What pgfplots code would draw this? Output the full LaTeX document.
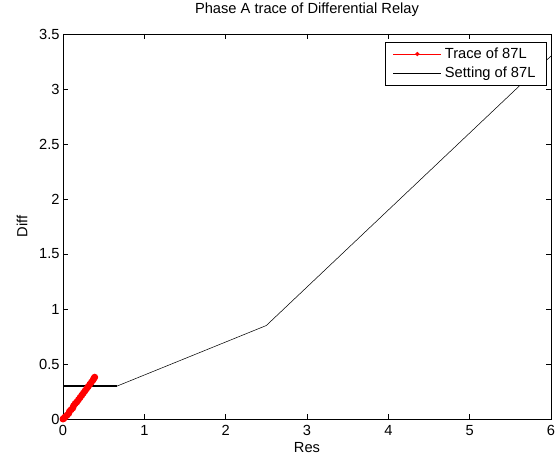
\documentclass[border=0pt]{standalone}
\usepackage{pgfplots}
\pgfplotsset{compat=1.18}
\usepackage{fontspec}
\setmainfont{Liberation Sans}
\begin{document}
\begin{tikzpicture}
\begin{axis}[
  scale only axis,
  width=366pt, height=288.75pt,
  xmin=0, xmax=6, ymin=0, ymax=3.5,
  xtick={0,1,2,3,4,5,6},
  ytick={0,0.5,1,1.5,2,2.5,3,3.5},
  yticklabels={0,0.5,1,1.5,2,2.5,3,3.5},
  xticklabels={0,1,2,3,4,5,6},
  tick align=inside,
  major tick length=4pt,
  tick style={black, line width=0.4pt},
  axis line style={black, line width=0.5pt},
  /pgf/number format/assume math mode=true,
  tick label style={font=\fontsize{11}{13}\selectfont},
  yticklabel style={xshift=1pt},
  xticklabel style={yshift=-1pt},
  label style={font=\fontsize{11}{13}\selectfont},
  title style={font=\fontsize{11}{13}\selectfont, at={(axis description cs:0.5,1.0417)}, anchor=center},
  title={Phase A trace of Differential Relay},
  xlabel={Res}, ylabel={Diff},
  xlabel style={at={(axis description cs:0.5,-0.0729)}, anchor=center},
  ylabel style={at={(axis description cs:-0.084,0.5)}, anchor=center},
  legend style={at={(0.992,0.979)}, anchor=north east, draw=black, line width=0.5pt,
    font=\fontsize{11}{13}\selectfont, inner xsep=6pt, inner ysep=2pt, row sep=1pt,
    nodes={inner xsep=2.5pt}},
  legend cell align=left,
  legend image code/.code={\draw[#1] (0pt,0pt) -- (36pt,0pt); \path[#1] plot coordinates {(18pt,0pt)};},
]
\addlegendimage{red, line width=0.4pt, mark=*, mark size=1.4pt, mark options={fill=red, draw=red}}
\addlegendentry{Trace of 87L}
\addplot[red, line width=1.5pt, mark=*, mark size=1.8pt, mark options={fill=red, draw=red}, forget plot] coordinates {
(0,0) (0.01,0.005) (0.02,0.015) (0.03,0.02) (0.05,0.035) (0.07,0.05) (0.08,0.07)
(0.10,0.085) (0.12,0.10) (0.13,0.12) (0.15,0.14) (0.17,0.155) (0.19,0.175)
(0.21,0.195) (0.23,0.215) (0.25,0.235) (0.27,0.255) (0.29,0.275) (0.31,0.295)
(0.33,0.315) (0.35,0.335) (0.37,0.355) (0.38,0.37) (0.39,0.38)
};
\addplot[black, line width=0.4pt] coordinates {(0,0.3) (0.667,0.3) (2.5,0.85) (6,3.3)};
\addlegendentry{Setting of 87L}
\addplot[black, line width=2pt, forget plot] coordinates {(0,0.3) (0.667,0.3)};
\end{axis}
\pgfresetboundingbox
\path[use as bounding box] ([shift={(-47.25pt,-28.5pt)}]current axis.south west) rectangle ([shift={(6.75pt,25.5pt)}]current axis.north east);
\end{tikzpicture}
\end{document}
